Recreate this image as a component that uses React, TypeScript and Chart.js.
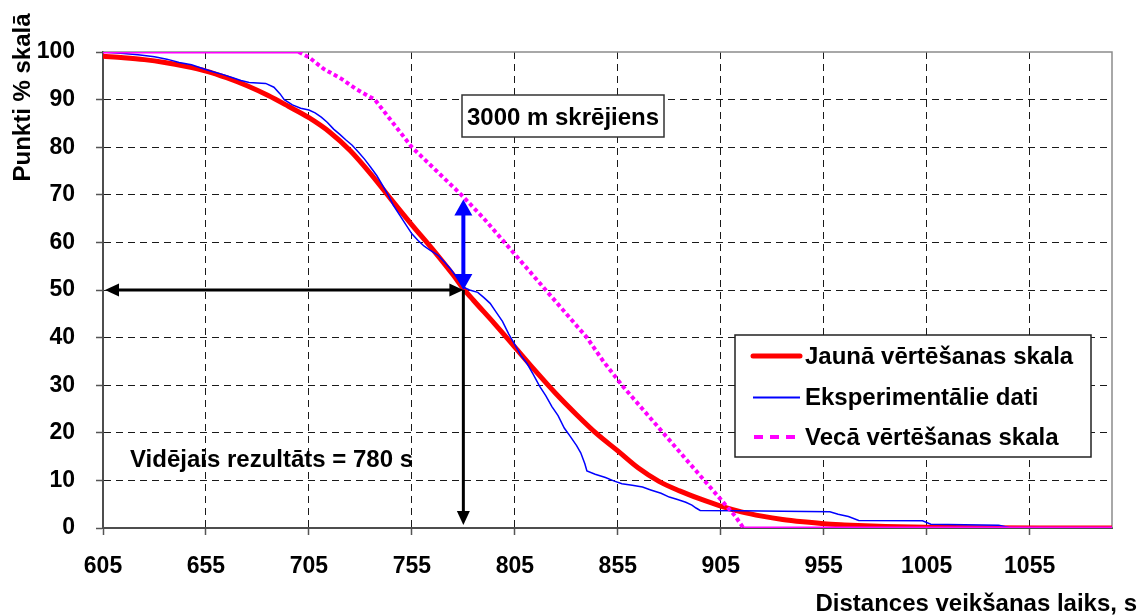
import React, { useEffect, useRef } from "react";
import { Chart, registerables } from "chart.js";

Chart.register(...registerables);

// ---- data ----
const xTicks = [605, 655, 705, 755, 805, 855, 905, 955, 1005, 1055];
const yTicks = [0, 10, 20, 30, 40, 50, 60, 70, 80, 90, 100];
const xMin = 605;
const xMax = 1095;

const seriesLabels = [
  "Jaunā vērtēšanas skala",
  "Eksperimentālie dati",
  "Vecā vērtēšanas skala",
];

const newX = [605, 615, 625, 635, 645, 655, 665, 675, 685, 695, 705, 715, 725, 735, 745, 755, 765, 775, 780, 785, 795, 805, 815, 825, 835, 845, 855, 865, 875, 885, 895, 905, 915, 925, 935, 945, 955, 965, 975, 985, 1005, 1030, 1060, 1095];
const newY = [99.1, 98.8, 98.4, 97.8, 97.0, 96.0, 94.6, 92.9, 90.9, 88.6, 86.2, 83.2, 79.3, 74.4, 69.0, 63.7, 58.6, 53.2, 50.3, 47.8, 43.0, 38.0, 33.0, 28.2, 23.8, 19.7, 16.2, 12.6, 9.8, 7.8, 6.1, 4.6, 3.4, 2.5, 1.8, 1.3, 0.9, 0.65, 0.45, 0.32, 0.16, 0.07, 0.02, 0.0];

const expX = [605, 615, 622, 630, 636, 642, 648, 653, 658, 663, 668, 672, 676, 684, 688, 691, 693, 697, 701, 705, 708, 711, 714, 717, 720, 723, 726, 729, 732, 735, 738, 741, 744, 746, 749, 752, 755, 758, 761, 764, 768, 771, 774, 777, 780, 783, 787, 790, 793, 796, 799, 802, 805, 808, 811, 814, 817, 820, 823, 826, 829, 832, 835, 837, 839, 840, 844, 849, 853, 857, 862, 867, 871, 876, 880, 884, 888, 891, 893, 895, 915, 935, 958, 962, 967, 972, 1003, 1007, 1040, 1046, 1095];
const expY = [100, 99.7, 99.4, 99.0, 98.5, 97.8, 97.3, 96.6, 95.9, 95.3, 94.6, 94.0, 93.6, 93.4, 92.6, 91.2, 90.0, 88.9, 88.2, 87.8, 87.2, 86.3, 85.2, 83.8, 82.7, 81.5, 80.4, 79.0, 77.5, 75.8, 74.0, 71.8, 69.5, 67.8, 65.8, 63.8, 61.8, 60.4, 59.2, 58.3, 57.2, 55.8, 54.3, 52.5, 50.6, 50.0, 49.5, 48.4, 47.2, 45.3, 43.4, 40.8, 38.5, 36.2, 34.5, 32.2, 29.8, 27.8, 25.5, 23.6, 21.0, 19.2, 17.3, 15.8, 13.5, 12.0, 11.3, 10.6, 9.9, 9.3, 9.0, 8.6, 8.0, 7.3, 6.5, 6.0, 5.4, 4.8, 4.2, 3.7, 3.6, 3.5, 3.4, 2.9, 2.4, 1.6, 1.5, 0.8, 0.6, 0, 0];

const oldX = [605, 700, 705, 712, 721, 728, 737, 746, 755, 767, 779, 790, 800, 810, 820, 830, 840, 848, 857, 867, 877, 887, 897, 907, 912, 916, 1095];
const oldY = [100, 100, 98.9, 96.5, 94.3, 92.2, 90, 85, 80, 75, 70, 65, 60, 55, 50, 45, 40, 35, 30, 25, 20, 15, 10, 5, 2.5, 0, 0];

const chartTitle = "3000 m skrējiens";
const meanLabel = "Vidējais rezultāts = 780 s";
const meanTime = 780;
const meanPoints = 50;
const oldPointsAtMean = 69;
const yTitle = "Punkti % skalā";
const xTitle = "Distances veikšanas laiks, s";

// ---- styles ----
const FAMILY = '"Liberation Sans", Arial, Helvetica, sans-serif';
const RED = "#ff0000";
const BLUE = "#0000ff";
const MAGENTA = "#ff00ff";
const DOT = [4, 3];

function toPoints(xs: number[], ys: number[]) {
  return xs.map((x, i) => ({ x, y: ys[i] }));
}

function head(ctx: CanvasRenderingContext2D, tx: number, ty: number, dx: number, dy: number, len: number, half: number) {
  const bx = tx - dx * len;
  const by = ty - dy * len;
  const px = -dy;
  const py = dx;
  ctx.beginPath();
  ctx.moveTo(tx, ty);
  ctx.lineTo(bx + px * half, by + py * half);
  ctx.lineTo(bx - px * half, by - py * half);
  ctx.closePath();
  ctx.fill();
}

const annotPlugin = {
  id: "annot",
  beforeDatasetsDraw(chart: any) {
    const { ctx, chartArea: a } = chart;
    ctx.save();
    ctx.strokeStyle = "#8c8c8c";
    ctx.lineWidth = 1.5;
    ctx.beginPath();
    ctx.moveTo(a.left, a.top);
    ctx.lineTo(a.right, a.top);
    ctx.lineTo(a.right, a.bottom);
    ctx.stroke();
    ctx.restore();
  },
  afterDatasetsDraw(chart: any) {
    const { ctx, scales } = chart;
    const xs = scales.x;
    const ys = scales.y;
    const mx = xs.getPixelForValue(meanTime);
    const my = ys.getPixelForValue(meanPoints);
    const leftX = xs.getPixelForValue(xMin) + 2;
    const bottomY = ys.getPixelForValue(0) - 3;
    const topBlue = ys.getPixelForValue(oldPointsAtMean);

    ctx.save();
    // black horizontal double arrow
    ctx.strokeStyle = "#000";
    ctx.fillStyle = "#000";
    ctx.lineWidth = 3;
    ctx.beginPath();
    ctx.moveTo(leftX + 12, my);
    ctx.lineTo(mx - 12, my);
    ctx.stroke();
    head(ctx, leftX, my, -1, 0, 14, 6.5);
    head(ctx, mx, my, 1, 0, 14, 6.5);
    // black vertical arrow down
    ctx.beginPath();
    ctx.moveTo(mx, my);
    ctx.lineTo(mx, bottomY - 12);
    ctx.stroke();
    head(ctx, mx, bottomY, 0, 1, 14, 6.5);
    // blue double arrow
    ctx.strokeStyle = BLUE;
    ctx.fillStyle = BLUE;
    ctx.lineWidth = 4;
    ctx.beginPath();
    ctx.moveTo(mx, topBlue + 14);
    ctx.lineTo(mx, my - 14);
    ctx.stroke();
    head(ctx, mx, topBlue, 0, -1, 16, 9);
    head(ctx, mx, my, 0, 1, 16, 9);

    // title box
    ctx.font = `bold 24px ${FAMILY}`;
    ctx.fillStyle = "#fff";
    ctx.fillRect(462, 95, 202, 42);
    ctx.strokeStyle = "#333";
    ctx.lineWidth = 1.5;
    ctx.strokeRect(462, 95, 202, 42);
    ctx.fillStyle = "#000";
    ctx.textAlign = "center";
    ctx.textBaseline = "alphabetic";
    ctx.fillText(chartTitle, 563, 125);

    // mean label
    ctx.textAlign = "left";
    ctx.fillText(meanLabel, 130, 467);

    // legend
    ctx.fillStyle = "#fff";
    ctx.fillRect(735, 335, 356, 122);
    ctx.strokeStyle = "#222";
    ctx.lineWidth = 1.5;
    ctx.strokeRect(735, 335, 356, 122);
    const rows = [356, 397.5, 437];
    const ds = chart.data.datasets;
    rows.forEach((ry, i) => {
      const d = ds[i];
      ctx.save();
      ctx.strokeStyle = d.borderColor;
      ctx.lineWidth = i === 0 ? 5 : i === 1 ? 2 : 4;
      ctx.lineCap = i === 0 ? "round" : "butt";
      ctx.setLineDash(i === 2 ? [9, 7] : []);
      ctx.beginPath();
      ctx.moveTo(i === 2 ? 754 : 753, ry);
      ctx.lineTo(800, ry);
      ctx.stroke();
      ctx.restore();
      ctx.fillStyle = "#000";
      ctx.textAlign = "left";
      ctx.textBaseline = "middle";
      ctx.fillText(d.label, 805, ry + 1);
    });
    ctx.restore();
  },
  afterDraw(chart: any) {
    const { ctx } = chart;
    ctx.save();
    ctx.font = `bold 24px ${FAMILY}`;
    ctx.fillStyle = "#000";
    ctx.textBaseline = "alphabetic";
    ctx.textAlign = "right";
    ctx.fillText(xTitle, 1137, 611);
    ctx.translate(30, 97.5);
    ctx.rotate(-Math.PI / 2);
    ctx.textAlign = "center";
    ctx.fillText(yTitle, 0, 0);
    ctx.restore();
  },
};

export default function App() {
  const ref = useRef<HTMLCanvasElement | null>(null);

  useEffect(() => {
    const canvas = ref.current;
    if (!canvas) return;
    const tickFont = { family: FAMILY, size: 23, weight: "bold" as const };
    const chart = new Chart(canvas, {
      type: "line",
      data: {
        datasets: [
          {
            label: seriesLabels[0],
            data: toPoints(newX, newY),
            borderColor: RED,
            backgroundColor: RED,
            borderWidth: 5,
            cubicInterpolationMode: "monotone",
            pointRadius: 0,
            order: 3,
          },
          {
            label: seriesLabels[1],
            data: toPoints(expX, expY),
            borderColor: BLUE,
            backgroundColor: BLUE,
            borderWidth: 1.5,
            tension: 0,
            pointRadius: 0,
            order: 2,
          },
          {
            label: seriesLabels[2],
            data: toPoints(oldX, oldY),
            borderColor: MAGENTA,
            backgroundColor: MAGENTA,
            borderWidth: 4,
            borderDash: DOT,
            tension: 0,
            pointRadius: 0,
            order: 1,
            segment: {
              borderDash: (c: any) => (c.p0.parsed.y === c.p1.parsed.y ? [] : DOT),
              borderWidth: (c: any) => (c.p0.parsed.y === c.p1.parsed.y ? 3 : 4),
            },
          } as any,
        ],
      },
      options: {
        animation: false,
        responsive: false,
        maintainAspectRatio: false,
        layout: { padding: { left: 0, right: 28, top: 52, bottom: 0 } },
        plugins: {
          legend: { display: false },
          tooltip: { enabled: false },
          title: { display: false },
        },
        elements: { point: { radius: 0 } },
        scales: {
          x: {
            type: "linear",
            min: xMin,
            max: xMax,
            afterBuildTicks: (s: any) => {
              s.ticks = xTicks.map((v) => ({ value: v }));
            },
            afterFit: (s: any) => {
              s.height = 88;
            },
            ticks: {
              font: tickFont,
              color: "#000",
              padding: 18,
              maxRotation: 0,
              autoSkip: false,
              callback: (v: any) => String(v),
            },
            grid: {
              color: (c: any) => (c.tick && c.tick.value === xMin ? "rgba(0,0,0,0)" : "#1a1a1a"),
              lineWidth: 1,
              tickColor: "#555",
              tickLength: 7,
              tickWidth: 1.5,
            },
            border: { display: true, color: "#4d4d4d", width: 2, dash: [7, 5] },
          },
          y: {
            type: "linear",
            min: 0,
            max: 100,
            afterBuildTicks: (s: any) => {
              s.ticks = yTicks.map((v) => ({ value: v }));
            },
            afterFit: (s: any) => {
              s.width = 103;
            },
            ticks: {
              font: tickFont,
              color: "#000",
              padding: 21,
              callback: (v: any) => String(v),
            },
            grid: {
              color: (c: any) =>
                c.tick && (c.tick.value === 0 || c.tick.value === 100) ? "rgba(0,0,0,0)" : "#1a1a1a",
              lineWidth: 1,
              tickColor: "#555",
              tickLength: 7,
              tickWidth: 1.5,
            },
            border: { display: true, color: "#4d4d4d", width: 2, dash: [7, 5] },
          },
        },
      },
      plugins: [annotPlugin as any],
    });
    return () => chart.destroy();
  }, []);

  return (
    <div style={{ position: "fixed", left: 0, top: 0, width: 1140, height: 616, background: "#fff" }}>
      <canvas ref={ref} width={1140} height={616} style={{ display: "block", width: 1140, height: 616 }} />
    </div>
  );
}
